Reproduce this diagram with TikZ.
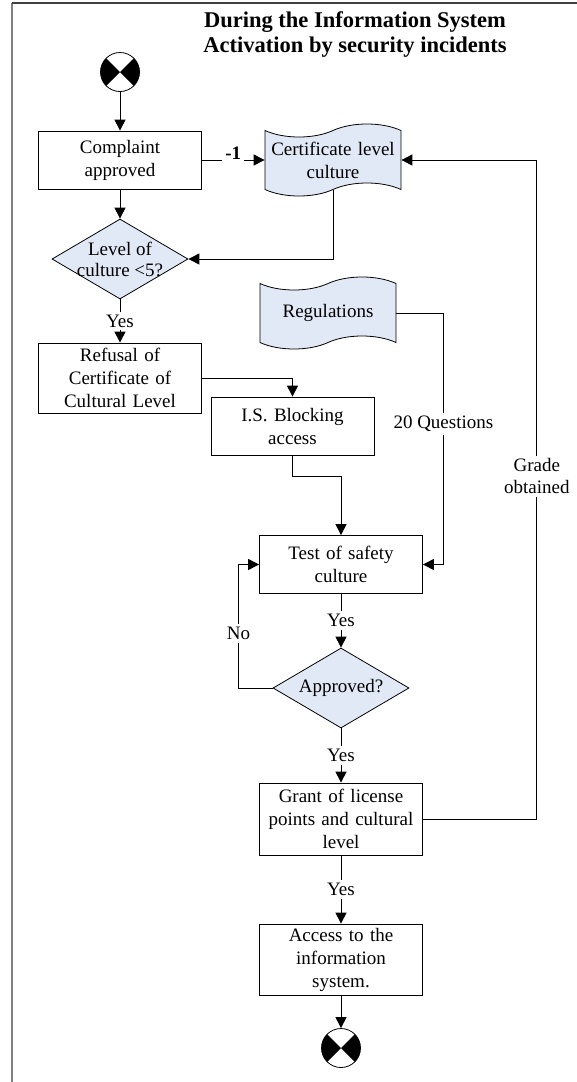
\documentclass[tikz,border=0pt]{standalone}
\usepackage{fontspec}
\setmainfont{Liberation Serif}
\usepackage{tikz}
\usetikzlibrary{shapes.geometric, shapes.symbols, arrows.meta, positioning}
\definecolor{mydark}{RGB}{0,0,0}
\definecolor{myblue}{RGB}{226,233,246}
\definecolor{myframe}{RGB}{128,128,128}
\definecolor{mytop}{RGB}{64,64,64}
\tikzset{
  block/.style={rectangle, draw=mydark, fill=white,
    text width=150pt, align=center, minimum width=163pt, minimum height=58pt,
    inner sep=0pt, font=\fontsize{19}{23}\selectfont, line width=0.8pt},
  decision/.style={diamond, draw=mydark, fill=myblue,
    minimum width=136pt, minimum height=80pt, inner sep=0pt, line width=0.8pt},
  dectext/.style={align=center, font=\fontsize{19}{21}\selectfont},
  tapedoc/.style={tape, draw=mydark, fill=myblue,
    text width=125pt, align=center, minimum width=136pt, minimum height=72pt,
    tape bend height=13pt, inner sep=0pt, font=\fontsize{19}{23}\selectfont, line width=0.8pt},
  endpt/.style={circle, draw=mydark, fill=white, minimum size=39pt, inner sep=0pt, line width=0.8pt,
    path picture={
      \fill[mydark] (path picture bounding box.center) -- (path picture bounding box.north east)
        -- (path picture bounding box.south east) -- cycle;
      \fill[mydark] (path picture bounding box.center) -- (path picture bounding box.north west)
        -- (path picture bounding box.south west) -- cycle;}},
  arrow/.style={-{Triangle[length=11pt,width=11pt]}, line width=1pt, color=mydark},
  lbl/.style={fill=white, inner sep=3pt, font=\fontsize{19}{22}\selectfont}
}

\begin{document}
\begin{tikzpicture}[x=1pt, y=-1pt]
  \useasboundingbox (0,0) rectangle (577,1082);
  \draw[myframe, line width=1.5pt] (12,1082) -- (12,3);
  \draw[mytop, line width=1.5pt] (12,3) -- (577,3);

  \node[font=\bfseries\fontsize{22.5}{25}\selectfont, align=center] (title) at (355,34.5)
    {During the Information System\\Activation by security incidents};

  \node[endpt] (start) at (120,72) {};
  \node[block] (compl) at (120,160) {Complaint\\approved};
  \node[tapedoc] (cert) at (333,160) {Certificate level\\culture};
  \node[decision, label={[dectext]center:Level of\\culture <5?}] (lvl) at (120,259) {};
  \node[block, minimum height=70pt] (refuse) at (120,378) {Refusal of\\Certificate of\\Cultural Level};
  \node[tapedoc] (regs) at (328,313) {Regulations};
  \node[block] (isblock) at (292.5,426) {I.S. Blocking\\access};
  \node[block] (test) at (341,564.5) {Test of safety\\culture};
  \node[decision, label={[dectext]center:Approved?}] (appr) at (341,688) {};
  \node[block, minimum height=72pt] (grant) at (341,819) {Grant of license\\points and cultural\\level};
  \node[block, minimum height=71pt] (access) at (341,959.5) {Access to the\\information\\system.};
  \node[endpt] (stop) at (341,1048) {};

  \draw[arrow] (start) -- (compl);
  \draw[arrow] (compl.east) -- node[lbl, font=\bfseries\fontsize{19}{22}\selectfont, yshift=7pt] {-1} (cert.west);
  \draw[arrow] (cert.south) |- (lvl.east);
  \draw[arrow] (compl) -- (lvl);
  \draw[arrow] (lvl) -- node[lbl] {Yes} (refuse);
  \draw[arrow] (refuse.east) -| (isblock);
  \draw[arrow] (isblock.south) -- ++(0,21) -| (test.north);
  \draw[arrow] (regs.east) -- ++(47,0) |- node[lbl, pos=0.22] {20 Questions} (test.east);
  \draw[arrow] (test) -- node[lbl] {Yes} (appr);
  \draw[arrow] (appr.west) -- ++(-34,0) |- node[lbl, pos=0.22] {No} (test.west);
  \draw[arrow] (appr) -- node[lbl] {Yes} (grant);
  \draw[arrow] (grant.east) -- ++(114,0) |- node[lbl, pos=0.26, align=center] {Grade\\obtained} (cert.east);
  \draw[arrow] (grant) -- node[lbl] {Yes} (access);
  \draw[arrow] (access) -- (stop);
\end{tikzpicture}
\end{document}
